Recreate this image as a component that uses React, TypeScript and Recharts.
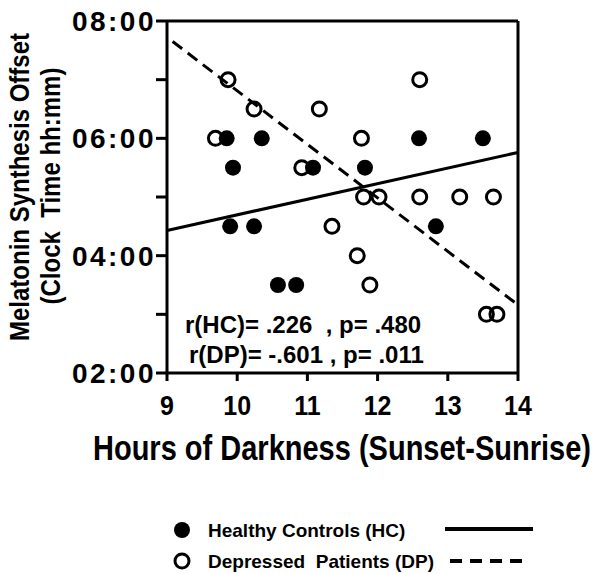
import { ScatterChart, Scatter, XAxis, YAxis, ReferenceLine } from "recharts";

// hours of darkness (x) and melatonin offset clock time in hours (y)
const hcHours = [9.85, 9.94, 9.9, 10.35, 10.24, 10.58, 10.84, 11.08, 11.82, 12.59, 12.83, 13.5];
const hcOffset = [6.0, 5.5, 4.5, 6.0, 4.5, 3.5, 3.5, 5.5, 5.5, 6.0, 4.5, 6.0];

const dpHours = [9.69, 9.87, 10.24, 10.92, 11.17, 11.35, 11.71, 11.77, 11.8, 11.89, 12.02, 12.6, 12.6, 13.17, 13.55, 13.65, 13.7];
const dpOffset = [6.0, 7.0, 6.5, 5.5, 6.5, 4.5, 4.0, 6.0, 5.0, 3.5, 5.0, 7.0, 5.0, 5.0, 3.0, 5.0, 3.0];

// fitted regression lines (end points)
const hcFit = [
  { x: 9, y: 4.43 },
  { x: 14, y: 5.76 },
];
const dpFit = [
  { x: 9.08, y: 7.65 },
  { x: 14, y: 3.16 },
];

const xTicks = [9, 10, 11, 12, 13, 14];
const yTicks = [2, 3, 4, 5, 6, 7, 8];

const hcData = hcHours.map((h, i) => ({ x: h, y: hcOffset[i] }));
const dpData = dpHours.map((h, i) => ({ x: h, y: dpOffset[i] }));

function clockLabel(v: number) {
  if (v % 2 !== 0) return "";
  return `${String(v).padStart(2, "0")}:00`;
}

const FilledDot = (props: any) => <circle cx={props.cx} cy={props.cy} r={8} fill="#000" />;
const OpenDot = (props: any) => (
  <circle cx={props.cx} cy={props.cy} r={7} fill="none" stroke="#000" strokeWidth={3} />
);

// x tick text, a bit taller than wide like the original figure
const XTick = (props: any) => {
  const { x, y, payload } = props;
  return (
    <text
      transform={`translate(${x},${y + 12}) scale(1,1.12)`}
      textAnchor="middle"
      dy="0.71em"
      fontSize={25}
      fontWeight={700}
      fill="#000"
    >
      {payload.value}
    </text>
  );
};

const bold = { fontWeight: 700, color: "#000", position: "absolute" as const, whiteSpace: "pre" as const, lineHeight: 1 };

export default function App() {
  return (
    <div
      style={{
        position: "absolute",
        left: 0,
        top: 0,
        width: 601,
        height: 574,
        background: "#fff",
        fontFamily: "'Liberation Sans', Arial, sans-serif",
      }}
    >
      <ScatterChart width={601} height={480} margin={{ top: 21, right: 83, bottom: 47, left: 0 }}>
        <XAxis
          type="number"
          dataKey="x"
          domain={[9, 14]}
          ticks={xTicks}
          height={60}
          tickSize={8}
          axisLine={{ stroke: "#000", strokeWidth: 3 }}
          tickLine={{ stroke: "#000", strokeWidth: 3 }}
          tick={<XTick />}
        />
        <YAxis
          type="number"
          dataKey="y"
          domain={[2, 8]}
          ticks={yTicks}
          width={167}
          tickSize={11}
          tickMargin={0}
          tickFormatter={clockLabel}
          axisLine={{ stroke: "#000", strokeWidth: 3 }}
          tickLine={{ stroke: "#000", strokeWidth: 3 }}
          tick={{ fontSize: 28, fontWeight: 700, fill: "#000", letterSpacing: 2.5 }}
        />
        <ReferenceLine y={8} stroke="#000" strokeWidth={3} />
        <ReferenceLine x={14} stroke="#000" strokeWidth={3} />
        <ReferenceLine segment={hcFit} stroke="#000" strokeWidth={3} />
        <ReferenceLine segment={dpFit} stroke="#000" strokeWidth={3} strokeDasharray="12 7" />
        <Scatter data={dpData} shape={OpenDot} isAnimationActive={false} />
        <Scatter data={hcData} shape={FilledDot} isAnimationActive={false} />
      </ScatterChart>

      {/* axis titles */}
      <div
        style={{
          ...bold,
          fontSize: 24,
          width: 340,
          height: 24,
          lineHeight: "24px",
          textAlign: "center",
          left: 20 - 170,
          top: 187 - 12,
          transform: "rotate(-90deg) scaleY(1.15)",
        }}
      >
        Melatonin Synthesis Offset
      </div>
      <div
        style={{
          ...bold,
          fontSize: 24,
          width: 340,
          height: 24,
          lineHeight: "24px",
          textAlign: "center",
          left: 51 - 170,
          top: 186 - 12,
          transform: "rotate(-90deg) scaleY(1.15)",
        }}
      >
        {"(Clock  Time hh:mm)"}
      </div>
      <div
        style={{
          ...bold,
          fontSize: 29,
          left: 93,
          top: 434,
          transform: "scaleY(1.18)",
        }}
      >
        Hours of Darkness (Sunset-Sunrise)
      </div>

      {/* correlation stats */}
      <div style={{ ...bold, fontSize: 24, left: 185, top: 313 }}>{"r(HC)= .226  , p= .480"}</div>
      <div style={{ ...bold, fontSize: 24, left: 189, top: 343 }}>{"r(DP)= -.601 , p= .011"}</div>

      {/* legend */}
      <svg width={601} height={94} style={{ position: "absolute", left: 0, top: 480 }}>
        <circle cx={182} cy={50} r={8} fill="#000" />
        <circle cx={182} cy={81} r={7} fill="none" stroke="#000" strokeWidth={3} />
        <line x1={445} y1={49} x2={533} y2={49} stroke="#000" strokeWidth={4} />
        <line x1={450} y1={81} x2={522} y2={81} stroke="#000" strokeWidth={4} strokeDasharray="12 8" />
      </svg>
      <div style={{ ...bold, fontSize: 19, left: 208, top: 521 }}>Healthy Controls (HC)</div>
      <div style={{ ...bold, fontSize: 19, left: 208, top: 552 }}>{"Depressed  Patients (DP)"}</div>
    </div>
  );
}
